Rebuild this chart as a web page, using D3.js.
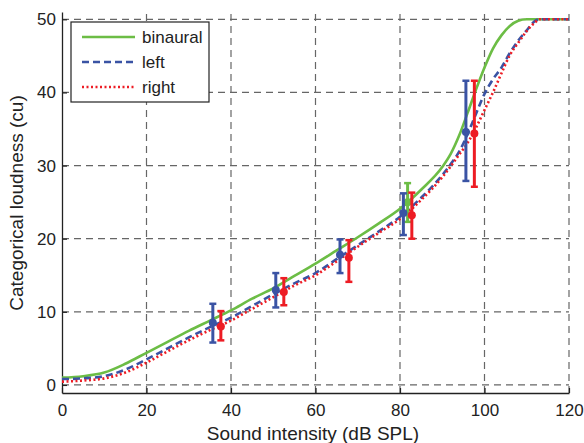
<!DOCTYPE html>
<html>
<head>
<meta charset="utf-8">
<script src="https://cdn.jsdelivr.net/npm/d3@7"></script>
<style>
body { margin: 0; background: #fff; }
text { font-family: "Liberation Sans", Arial, sans-serif; fill: #222; }
</style>
</head>
<body>
<div class="container"></div>
<script>
const wd = 584, ht = 443

// curve samples (dB SPL -> cu)
const xs = [0,5,10,15,20,25,30,35,40,45,50,55,60,65,70,75,80,85,90,92,94,96,98,100,102,104,106,108,110,112,113,115,120]
const binaural = [1.0,1.2,1.7,2.9,4.4,5.9,7.4,8.8,10.2,11.8,13.2,14.9,16.6,18.4,20.2,22.1,24.1,26.7,29.8,31.6,34.1,37.2,40.4,43.4,46.0,47.8,49.1,49.8,50,50,50,50,50]
const left = [0.8,0.9,1.2,2.1,3.5,5.0,6.5,7.9,9.2,10.8,12.4,13.9,15.3,17.2,19.1,21.0,23.0,25.6,28.7,30.2,31.9,34.3,37.1,39.8,41.8,43.4,45.4,47.1,48.5,49.8,50,50,50]
const right = [0.45,0.6,0.9,1.7,3.05,4.6,6.1,7.5,8.8,10.4,12.0,13.6,15.0,16.9,18.9,20.8,22.7,25.3,28.4,29.9,31.5,33.1,35.2,37.6,40.0,42.6,45.1,46.8,48.4,49.6,50,50,50]

// error bars: x, mean, low, high
const errBinaural = [[81.8, 25.0, 22.3, 27.6]]
const errLeft = [[35.7, 8.5, 5.8, 11.1], [50.6, 13.0, 10.6, 15.3], [65.8, 17.8, 15.3, 19.9], [80.8, 23.5, 20.5, 26.2], [95.6, 34.6, 27.9, 41.6]]
const errRight = [[37.6, 8.0, 6.1, 10.1], [52.5, 12.7, 10.9, 14.6], [67.9, 17.4, 14.1, 19.8], [82.8, 23.2, 20.0, 26.3], [97.6, 34.4, 27.1, 41.6]]

const xTicks = [0,20,40,60,80,100,120]
const yTicks = [0,10,20,30,40,50]

const series = [
  {name: "binaural", vals: binaural, err: errBinaural, color: "#6cbd45", dash: null},
  {name: "left", vals: left, err: errLeft, color: "#3a53a4", dash: "7,4"},
  {name: "right", vals: right, err: errRight, color: "#ed1c24", dash: "2,2.5"}
]

const svgC = d3.select(".container")
.append("svg")
.attr("width", wd)
.attr("height", ht)

const xScale = d3.scaleLinear().domain([0,120]).range([62,569])
const yScale = d3.scaleLinear().domain([-1.1,51]).range([393,12])

// grid
const grid = svgC.append("g")
.attr("stroke", "#666")
.attr("stroke-width", 1.2)
.attr("stroke-dasharray", "7,5")
grid.selectAll(".vg").data(xTicks.slice(1)).enter().append("line")
.attr("x1", d=>xScale(d)).attr("x2", d=>xScale(d))
.attr("y1", yScale(-1.1)).attr("y2", yScale(51))
grid.selectAll(".hg").data(yTicks).enter().append("line")
.attr("x1", xScale(0)).attr("x2", xScale(120))
.attr("y1", d=>yScale(d)).attr("y2", d=>yScale(d))

// axes
const xAxis = d3.axisBottom(xScale).tickValues(xTicks).tickSizeInner(-5).tickSizeOuter(0).tickPadding(11)
const yAxis = d3.axisLeft(yScale).tickValues(yTicks).tickSizeInner(-5).tickSizeOuter(0).tickPadding(6)

const gx = svgC.append("g").attr("transform", "translate(0," + yScale(-1.1) + ")").call(xAxis)
const gy = svgC.append("g").attr("transform", "translate(" + xScale(0) + ",0)").call(yAxis)
;[gx, gy].forEach(g=>{
  g.select(".domain").attr("stroke", "#222").attr("stroke-width", 1.3)
  g.selectAll(".tick line").attr("stroke", "#222").attr("stroke-width", 1.2)
  g.selectAll("text").style("font-size", "17px").attr("fill", "#222")
    .style("font-family", "'Liberation Sans', Arial, sans-serif")
})

// curves
const line = d3.line()
.x((d,i)=>xScale(xs[i]))
.y(d=>yScale(d))
.curve(d3.curveMonotoneX)

series.forEach(s=>{
  svgC.append("path")
  .datum(s.vals)
  .attr("d", line)
  .attr("fill", "none")
  .attr("stroke", s.color)
  .attr("stroke-width", 2.6)
  .attr("stroke-dasharray", s.dash)
})

// error bars
series.forEach(s=>{
  const g = svgC.append("g").attr("stroke", s.color).attr("fill", s.color)
  s.err.forEach(e=>{
    const x = xScale(e[0])
    g.append("line").attr("x1", x).attr("x2", x)
    .attr("y1", yScale(e[2])).attr("y2", yScale(e[3])).attr("stroke-width", 3)
    g.append("line").attr("x1", x-3.5).attr("x2", x+3.5)
    .attr("y1", yScale(e[2])).attr("y2", yScale(e[2])).attr("stroke-width", 2.5)
    g.append("line").attr("x1", x-3.5).attr("x2", x+3.5)
    .attr("y1", yScale(e[3])).attr("y2", yScale(e[3])).attr("stroke-width", 2.5)
    g.append("circle").attr("cx", x).attr("cy", yScale(e[1])).attr("r", 4).attr("stroke", "none")
  })
})

// legend
const lg = svgC.append("g")
lg.append("rect")
.attr("x", 71).attr("y", 22).attr("width", 138).attr("height", 80)
.attr("fill", "#fff").attr("stroke", "#222").attr("stroke-width", 1.2)
series.forEach((s,i)=>{
  const y = 37 + i*25
  lg.append("line").attr("x1", 82).attr("x2", 135).attr("y1", y).attr("y2", y)
  .attr("stroke", s.color).attr("stroke-width", 2.6).attr("stroke-dasharray", s.dash)
  lg.append("text").attr("x", 142).attr("y", y + 6)
  .style("font-size", "17px").text(s.name)
})

// axis titles
svgC.append("text")
.attr("x", 313).attr("y", 440)
.attr("text-anchor", "middle")
.style("font-size", "19px")
.text("Sound intensity (dB SPL)")

svgC.append("text")
.attr("transform", "translate(23," + 203 + ") rotate(-90)")
.attr("text-anchor", "middle")
.style("font-size", "19px")
.text("Categorical loudness (cu)")
</script>
</body>
</html>
